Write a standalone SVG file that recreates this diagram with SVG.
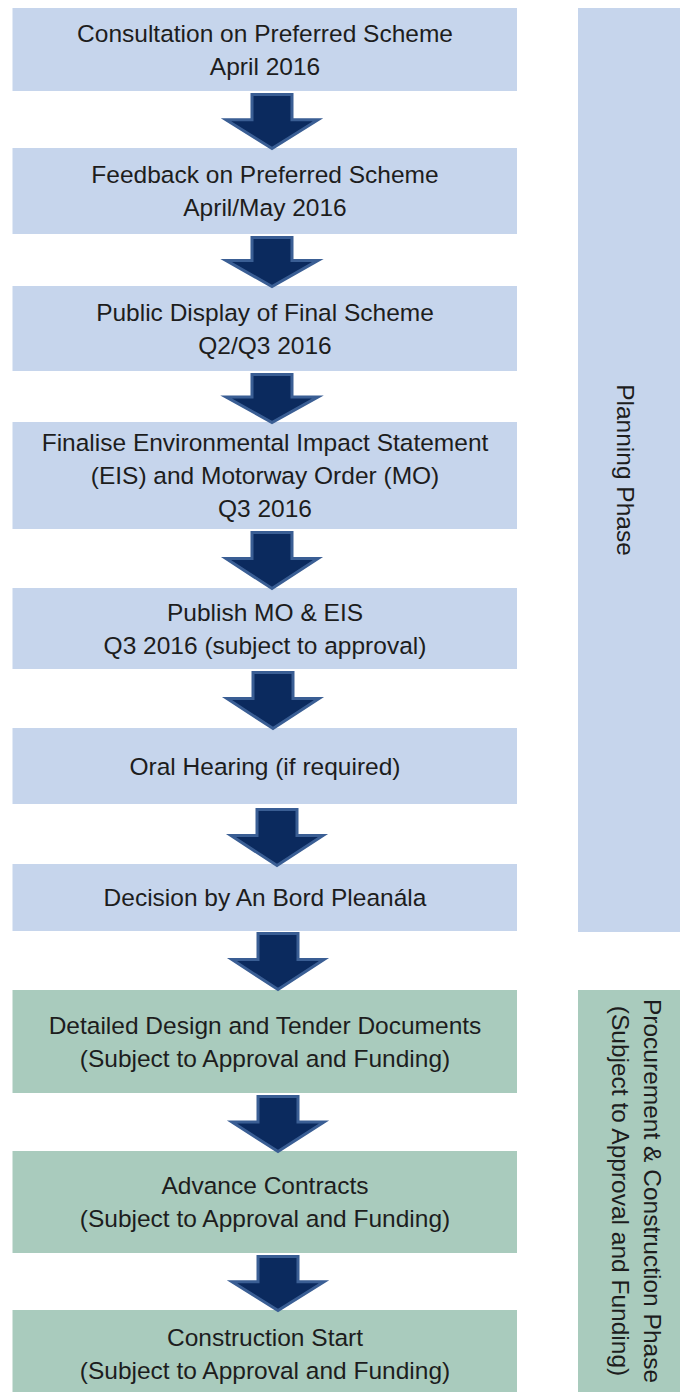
<svg xmlns="http://www.w3.org/2000/svg" width="680" height="1392" viewBox="0 0 680 1392">
<style>
.blue{fill:#c6d5ec}
.green{fill:#a9cbbd}
.t{font-family:"Liberation Sans",Arial,sans-serif;font-size:24.5px;fill:#1d1d1d;text-anchor:middle}
.arr{fill:#0b2a5e;stroke:#3a5e94;stroke-width:3;stroke-linejoin:miter}
</style>
<rect width="680" height="1392" fill="#ffffff"/>
<g id="panel-planning">
<rect class="blue" x="578" y="8" width="102" height="924"/>
<text class="t" transform="translate(625,470) rotate(90)" x="0" y="8">Planning Phase</text>
</g>
<g id="panel-procurement">
<rect class="green" x="578" y="990" width="102" height="402"/>
<text class="t" transform="translate(636,1191) rotate(90)" x="0" y="-7.5">Procurement &amp; Construction Phase</text>
<text class="t" transform="translate(636,1191) rotate(90)" x="0" y="24.5">(Subject to Approval and Funding)</text>
</g>
<g id="n1"><rect class="blue" x="12.5" y="8" width="504.5" height="83"/>
<text class="t" x="265" y="41.5">Consultation on Preferred Scheme</text>
<text class="t" x="265" y="74.5">April 2016</text></g>
<g id="n2"><rect class="blue" x="12.5" y="148" width="504.5" height="86"/>
<text class="t" x="265" y="183">Feedback on Preferred Scheme</text>
<text class="t" x="265" y="216">April/May 2016</text></g>
<g id="n3"><rect class="blue" x="12.5" y="286" width="504.5" height="85"/>
<text class="t" x="265" y="320.5">Public Display of Final Scheme</text>
<text class="t" x="265" y="353.5">Q2/Q3 2016</text></g>
<g id="n4"><rect class="blue" x="12.5" y="422" width="504.5" height="107"/>
<text class="t" x="265" y="451">Finalise Environmental Impact Statement</text>
<text class="t" x="265" y="484">(EIS) and Motorway Order (MO)</text>
<text class="t" x="265" y="517">Q3 2016</text></g>
<g id="n5"><rect class="blue" x="12.5" y="588" width="504.5" height="81"/>
<text class="t" x="265" y="620.5">Publish MO &amp; EIS</text>
<text class="t" x="265" y="653.5">Q3 2016 (subject to approval)</text></g>
<g id="n6"><rect class="blue" x="12.5" y="728" width="504.5" height="76"/>
<text class="t" x="265" y="774.5">Oral Hearing (if required)</text></g>
<g id="n7"><rect class="blue" x="12.5" y="864" width="504.5" height="67"/>
<text class="t" x="265" y="906">Decision by An Bord Pleanála</text></g>
<g id="n8"><rect class="green" x="12.5" y="990" width="504.5" height="103"/>
<text class="t" x="265" y="1033.5">Detailed Design and Tender Documents</text>
<text class="t" x="265" y="1066.5">(Subject to Approval and Funding)</text></g>
<g id="n9"><rect class="green" x="12.5" y="1151" width="504.5" height="102"/>
<text class="t" x="265" y="1194">Advance Contracts</text>
<text class="t" x="265" y="1227">(Subject to Approval and Funding)</text></g>
<g id="n10"><rect class="green" x="12.5" y="1310" width="504.5" height="82"/>
<text class="t" x="265" y="1345.5">Construction Start</text>
<text class="t" x="265" y="1378.5">(Subject to Approval and Funding)</text></g>
<g id="connectors">
<polygon class="arr" points="252,94.5 292,94.5 292,119.7 318,119.7 272,148.5 226,119.7 252,119.7"/>
<polygon class="arr" points="252,237.5 292,237.5 292,260.4 318,260.4 272,286.5 226,260.4 252,260.4"/>
<polygon class="arr" points="252,374.5 292,374.5 292,396.9 318,396.9 272,422.5 226,396.9 252,396.9"/>
<polygon class="arr" points="252,532.5 292,532.5 292,558.6 318,558.6 272,588.5 226,558.6 252,558.6"/>
<polygon class="arr" points="253,672.5 293,672.5 293,698.6 319,698.6 273,728.5 227,698.6 253,698.6"/>
<polygon class="arr" points="257,809.5 297,809.5 297,835.6 323,835.6 277,865.5 231,835.6 257,835.6"/>
<polygon class="arr" points="258,933.5 298,933.5 298,959.6 324,959.6 278,989.5 232,959.6 258,959.6"/>
<polygon class="arr" points="258,1096.5 298,1096.5 298,1122.1 324,1122.1 278,1151.5 232,1122.1 258,1122.1"/>
<polygon class="arr" points="258,1256.5 298,1256.5 298,1281.7 324,1281.7 278,1310.5 232,1281.7 258,1281.7"/>
</g>
</svg>
